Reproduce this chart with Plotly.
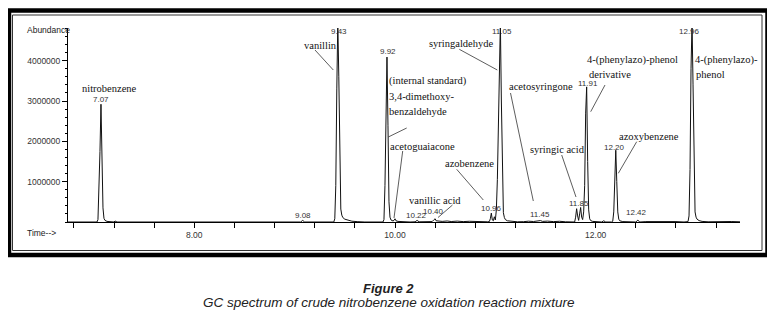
import plotly.graph_objects as go

# ---------------- data ----------------
scan_time = [
    6.74, 7.03, 7.04, 7.05, 7.06, 7.07, 7.08, 7.09, 7.10, 7.11, 7.13, 7.17,
    7.20, 7.21, 7.23,
    9.06, 9.08, 9.10,
    9.39, 9.40, 9.41, 9.42, 9.43, 9.44, 9.45, 9.46, 9.47, 9.48, 9.50, 9.53, 9.57, 9.63, 9.70,
    9.88, 9.89, 9.90, 9.91, 9.92, 9.93, 9.94, 9.95, 9.96, 9.98, 9.99, 10.00, 10.01, 10.03, 10.08, 10.15,
    10.20, 10.22, 10.24,
    10.37, 10.39, 10.40, 10.41, 10.43, 10.47, 10.52, 10.56, 10.62, 10.68, 10.74, 10.80, 10.86, 10.92,
    10.94, 10.95, 10.96, 10.97, 10.98, 10.99, 11.00, 11.01, 11.02, 11.03, 11.04, 11.05, 11.06, 11.07,
    11.08, 11.09, 11.10, 11.12, 11.16, 11.22,
    11.28, 11.33, 11.38, 11.43, 11.45, 11.47, 11.52, 11.58, 11.64, 11.70, 11.76,
    11.79, 11.80, 11.81, 11.82, 11.83, 11.84, 11.85, 11.86, 11.87, 11.88, 11.89, 11.90, 11.91, 11.92,
    11.93, 11.94, 11.95, 11.97, 12.00, 12.04,
    12.06, 12.08, 12.10,
    12.16, 12.17, 12.18, 12.19, 12.20, 12.21, 12.22, 12.23, 12.24, 12.27, 12.32,
    12.40, 12.42, 12.44, 12.50, 12.60, 12.70, 12.80, 12.88,
    12.92, 12.93, 12.94, 12.95, 12.96, 12.97, 12.98, 12.99, 13.00, 13.01, 13.03, 13.06, 13.12,
    13.20, 13.28, 13.35, 13.44,
]
abundance = [
    0, 0, 60000, 700000, 1750000, 2920000, 1700000, 350000, 90000, 40000, 15000, 0,
    0, 25000, 0,
    0, 40000, 0,
    0, 80000, 900000, 3300000, 4950000, 3600000, 1100000, 320000, 170000, 110000, 70000, 40000, 20000, 8000, 0,
    0, 60000, 900000, 3000000, 4090000, 2400000, 500000, 120000, 50000, 25000, 40000, 80000, 30000, 15000, 5000, 0,
    5000, 40000, 5000,
    10000, 60000, 80000, 30000, 25000, 15000, 25000, 12000, 22000, 10000, 18000, 8000, 12000, 5000,
    10000, 80000, 220000, 50000, 30000, 130000, 50000, 300000, 1050000, 2600000, 4300000, 4950000, 3000000, 900000,
    230000, 110000, 60000, 30000, 15000, 5000,
    8000, 20000, 12000, 25000, 35000, 15000, 22000, 10000, 18000, 5000, 0,
    0, 120000, 330000, 150000, 40000, 200000, 360000, 120000, 60000, 250000, 900000, 2700000, 3350000, 1500000,
    300000, 80000, 35000, 15000, 5000, 0,
    0, 30000, 0,
    0, 20000, 250000, 1200000, 1780000, 1000000, 250000, 70000, 30000, 10000, 0,
    0, 45000, 0, 10000, 15000, 8000, 10000, 0,
    10000, 150000, 1300000, 3800000, 4950000, 3400000, 900000, 250000, 120000, 70000, 35000, 15000, 5000,
    10000, 3000, 12000, 5000,
]

y_tick_values = [1000000, 2000000, 3000000, 4000000]
y_tick_labels = ["1000000", "2000000", "3000000", "4000000"]
x_tick_values = [6.8, 7.2, 7.6, 8.0, 8.4, 8.8, 9.2, 9.6, 10.0, 10.4, 10.8, 11.2, 11.6, 12.0, 12.4, 12.8, 13.2]
x_tick_labels = ["", "", "", "8.00", "", "", "", "", "10.00", "", "", "", "", "12.00", "", "", ""]

# retention-time labels printed by the peaks
rt_labels = ["7.07", "9.43", "9.92", "9.08", "10.22", "10.40", "10.96", "11.05",
             "11.45", "11.85", "11.91", "12.20", "12.42", "12.96"]

compound_labels = ["nitrobenzene", "vanillin", "(internal standard)", "3,4-dimethoxy-",
                   "benzaldehyde", "acetoguaiacone", "vanillic acid", "azobenzene",
                   "syringaldehyde", "acetosyringone", "syringic acid",
                   "4-(phenylazo)-phenol", "derivative", "azoxybenzene",
                   "4-(phenylazo)-", "phenol"]

# ---------------- geometry (page pixels; the page body has an 8px margin) ----------------
OFF = 8
PLOT_L, PLOT_R, PLOT_T, PLOT_B = 68, 740, 28, 222   # plot area in page pixels
W, H = 775 - OFF, 312 - OFF
L, T = PLOT_L - OFF, PLOT_T - OFF
R, B = W - (PLOT_R - OFF), H - (PLOT_B - OFF)
PX_8MIN, PX_PER_MIN = 194.3, 100.35
BASE_PX, PX_PER_M = 222.0, 40.33


def ax_x(px):
    return 8.0 + (px - PX_8MIN) / PX_PER_MIN


def ax_y(py):
    return (BASE_PX - py) / PX_PER_M * 1e6


def pap_x(px):
    return (px - PLOT_L) / (PLOT_R - PLOT_L)


def pap_y(py):
    return (PLOT_B - py) / (PLOT_B - PLOT_T)


fig = go.Figure()
fig.add_trace(go.Scatter(x=scan_time, y=abundance, mode="lines",
                         line=dict(color="#111111", width=1), hoverinfo="skip",
                         showlegend=False))

SANS = "Liberation Sans, Arial, sans-serif"
SERIF = "Liberation Serif, Times New Roman, serif"

annotations = []
rt_pos = [(100.5, 99), (339, 31.5), (387.5, 51), (303, 215), (416, 215), (433, 211),
          (491, 208.5), (502, 31.5), (540, 214), (578.5, 203), (588, 83), (614, 147),
          (636.7, 212), (689, 31.5)]
for txt, (px, py) in zip(rt_labels, rt_pos):
    annotations.append(dict(x=ax_x(px), y=ax_y(py), xref="x", yref="y", text=txt,
                            showarrow=False, xanchor="center", yanchor="middle",
                            font=dict(family=SANS, size=8, color="#333333")))

cmp_pos = [(80, 88), (301.7, 45), (387, 81), (387, 96), (387, 111), (388, 146),
           (406.7, 200), (442.7, 163), (426.7, 43), (507, 86), (528.3, 149),
           (585, 60), (587.3, 74), (616.7, 136), (693.3, 60), (694, 74)]
for txt, (px, py) in zip(compound_labels, cmp_pos):
    annotations.append(dict(x=ax_x(px), y=ax_y(py), xref="x", yref="y", text=txt,
                            showarrow=False, xanchor="left", yanchor="middle",
                            font=dict(family=SERIF, size=10.5, color="#111111")))

annotations.append(dict(x=pap_x(25), y=pap_y(30), xref="paper", yref="paper", text="Abundance",
                        showarrow=False, xanchor="left", yanchor="middle",
                        font=dict(family=SANS, size=8.5, color="#222222")))
annotations.append(dict(x=pap_x(25), y=pap_y(233), xref="paper", yref="paper", text="Time-->",
                        showarrow=False, xanchor="left", yanchor="middle",
                        font=dict(family=SANS, size=8.5, color="#222222")))
annotations.append(dict(x=pap_x(388), y=pap_y(288), xref="paper", yref="paper",
                        text="<b><i>Figure 2</i></b>", showarrow=False,
                        xanchor="center", yanchor="middle",
                        font=dict(family=SANS, size=13, color="#222222")))
annotations.append(dict(x=pap_x(388), y=pap_y(302), xref="paper", yref="paper",
                        text="<i>GC spectrum of crude nitrobenzene oxidation reaction mixture</i>",
                        showarrow=False, xanchor="center", yanchor="middle",
                        font=dict(family=SANS, size=13.5, color="#222222")))

shapes = []
leaders = [((315, 50), (333.3, 70)), ((406.7, 128), (388.3, 137)), ((402.7, 151), (394, 218)),
           ((452.5, 205), (438, 217.5)), ((456.7, 169.3), (483.3, 200)), ((459.3, 49.3), (497.3, 70)),
           ((510.5, 93), (533.3, 201)), ((561.7, 155), (576, 197)), ((605, 85), (590.7, 111.7)),
           ((636.7, 141.7), (618.3, 173.3))]
for (a, b) in leaders:
    shapes.append(dict(type="line", xref="x", yref="y", x0=ax_x(a[0]), y0=ax_y(a[1]),
                       x1=ax_x(b[0]), y1=ax_y(b[1]), line=dict(color="#333333", width=0.8)))

# outer double frame
shapes.append(dict(type="rect", xref="paper", yref="paper", x0=pap_x(9), x1=pap_x(767.5),
                   y0=pap_y(10.5), y1=pap_y(255), line=dict(color="black", width=4.5)))
shapes.append(dict(type="rect", xref="paper", yref="paper", x0=pap_x(12.5), x1=pap_x(762),
                   y0=pap_y(15), y1=pap_y(250.5), line=dict(color="#333333", width=1)))

fig.update_layout(
    width=W, height=H,
    margin=dict(l=L, r=R, t=T, b=B),
    paper_bgcolor="white", plot_bgcolor="white",
    showlegend=False,
    annotations=annotations,
    shapes=shapes,
    xaxis=dict(range=[ax_x(PLOT_L), ax_x(PLOT_R)], showgrid=False, zeroline=False,
               showline=True, linecolor="black", linewidth=1,
               tickmode="array", tickvals=x_tick_values, ticktext=x_tick_labels,
               ticks="outside", ticklen=5, tickcolor="black", tickwidth=1,
               tickfont=dict(family=SANS, size=8.5, color="#333333")),
    yaxis=dict(range=[0, ax_y(PLOT_T)], showgrid=False, zeroline=False,
               showline=True, linecolor="black", linewidth=1,
               tickmode="array", tickvals=y_tick_values, ticktext=y_tick_labels,
               ticks="outside", ticklen=5, tickcolor="black", tickwidth=1,
               tickfont=dict(family=SANS, size=8.5, color="#333333"),
               minor=dict(tickmode="linear", tick0=0, dtick=200000, ticks="outside",
                          ticklen=2.5, tickcolor="black", showgrid=False)),
)

fig.write_html("out.html")
